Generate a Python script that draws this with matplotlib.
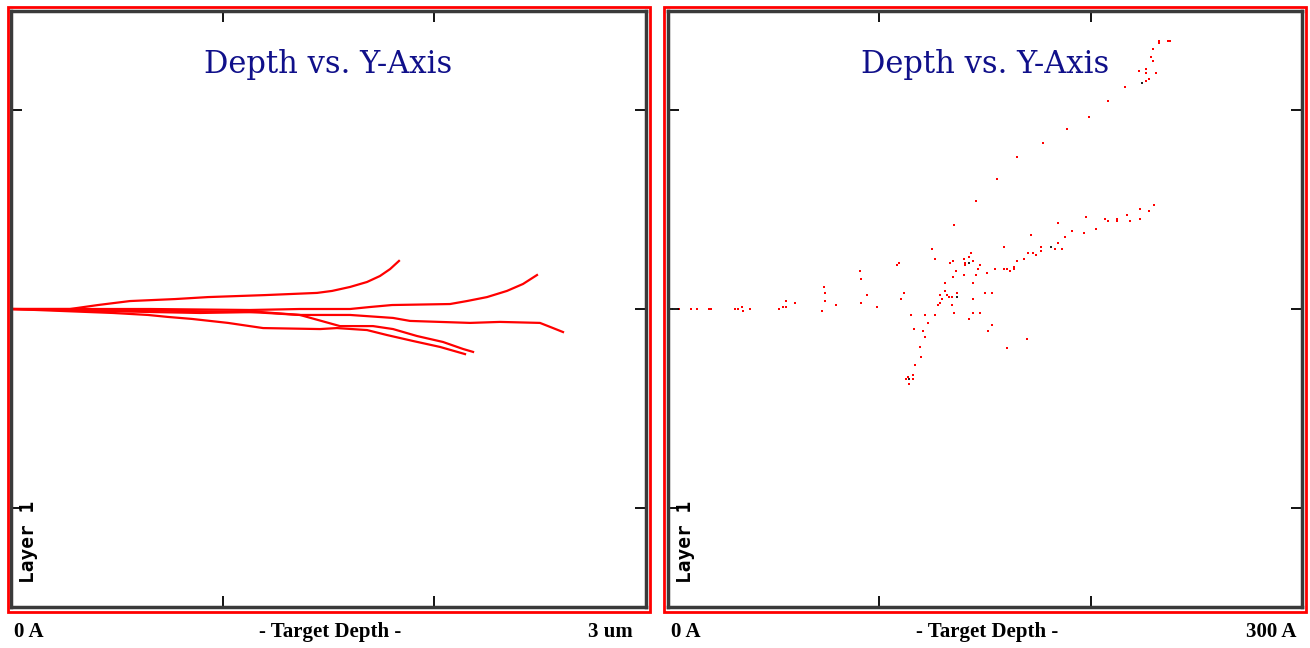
import numpy as np
import matplotlib.pyplot as plt
from matplotlib.patches import Rectangle

# left panel: ion tracks, depth (um) vs lateral Y (um)
trk_a_x = [0, 0.279, 0.411, 0.562, 0.775, 0.931, 1.200, 1.446, 1.517, 1.602, 1.682, 1.743, 1.791, 1.833]
trk_a_y = [0, 0, 0.020, 0.040, 0.050, 0.060, 0.070, 0.081, 0.091, 0.111, 0.136, 0.166, 0.201, 0.242]
trk_b_x = [0, 0.657, 1.129, 1.365, 1.602, 1.696, 1.800, 2.074, 2.154, 2.249, 2.343, 2.419, 2.485]
trk_b_y = [0, 0, -0.005, 0, 0, 0.010, 0.020, 0.025, 0.040, 0.060, 0.091, 0.126, 0.171]
trk_c_x = [0, 0.515, 1.129, 1.365, 1.602, 1.805, 1.885, 2.169, 2.310, 2.499, 2.561, 2.608]
trk_c_y = [0, -0.005, -0.015, -0.030, -0.030, -0.045, -0.060, -0.070, -0.065, -0.070, -0.096, -0.116]
trk_d_x = [0, 0.420, 0.893, 1.176, 1.365, 1.554, 1.710, 1.805, 1.918, 2.041, 2.135, 2.183]
trk_d_y = [0, -0.010, -0.020, -0.015, -0.030, -0.086, -0.086, -0.101, -0.136, -0.166, -0.201, -0.216]
trk_e_x = [0, 0.482, 0.647, 0.742, 0.855, 1.025, 1.191, 1.460, 1.540, 1.682, 1.776, 1.899, 2.027, 2.145]
trk_e_y = [0, -0.020, -0.030, -0.040, -0.050, -0.070, -0.096, -0.101, -0.096, -0.106, -0.131, -0.161, -0.191, -0.227]

# right panel: recoil positions, depth (A) vs Y (A)
rec_x = [10.9, 13.7, 19.4, 20.3, 31.7, 33.1, 35.0, 35.5, 38.8, 52.5, 54.4, 55.8, 55.8, 60.1,
         72.9, 73.8, 74.3, 74.3, 79.5, 90.9, 91.3, 91.3, 94.2, 98.9, 108.4, 109.3, 110.3, 111.7,
         115.0, 116.4, 119.2, 119.7, 120.7, 121.6, 121.6, 123.0, 124.9, 126.3, 126.3, 116.9,
         112.6, 113.6, 114.0, 115.9, 115.9, 127.8, 128.7, 129.7, 131.1, 131.1, 132.0, 133.0,
         133.4, 134.4, 134.4, 134.9, 134.9, 135.3, 136.3, 136.8, 140.1, 140.5, 140.5, 140.1,
         142.4, 142.4, 165.1, 155.7, 145.7, 135.3, 143.4, 144.3, 147.6, 146.7, 145.7, 151.0,
         154.7, 159.0, 160.4, 161.8, 163.7, 163.7, 165.1, 159.0, 168.5, 170.4, 172.7, 174.1,
         176.5, 176.5, 183.1, 184.5, 186.4, 184.5, 171.8, 187.9, 191.2, 196.9, 197.8, 202.5,
         206.8, 208.2, 212.5, 212.5, 217.2, 218.6, 223.4, 223.4, 227.6, 230.0, 144.3, 144.3,
         150.0, 153.3, 128.7, 144.3, 147.6, 153.3, 151.4, 169.9, 160.4, 232.3, 232.3, 236.6,
         237.5, 229.5, 228.6, 229.5, 222.9, 226.2, 226.2, 230.9, 227.6, 226.2, 216.3, 208.2,
         199.2, 188.8, 177.5, 5.0]
rec_y = [0, 0, 0, 0, 0, 0, 1.0, -1.0, 0, 0, 1.0, 1.0, 4.0, 3.0,
         -1.0, 11.1, 8.1, 4.0, 2.0, 19.1, 15.1, 3.0, 7.0, 1.0, 22.1, 23.2, 5.0, 8.1,
         -3.0, -10.1, -19.1, -24.2, -11.1, -3.0, -14.1, -7.0, 30.2, 25.2, -3.0, -28.2,
         -35.2, -34.2, -37.8, -33.2, -35.2, 2.0, 7.0, 5.0, 13.1, 9.1, 7.0, 6.0,
         23.2, 2.0, 6.0, 24.2, 16.1, -2.0, 19.1, 8.1, 25.2, 23.2, 22.1, 17.1,
         26.2, -5.0, 76.5, 65.4, 54.4, 42.3, 28.2, 24.2, 22.1, 20.1, 17.1, 18.1,
         20.1, 20.1, 20.1, 19.1, 20.1, 21.1, 24.2, 31.2, 25.2, 28.2, 28.2, 27.2,
         31.2, 29.2, 30.2, 33.2, 30.2, 43.3, 37.3, 36.2, 39.3, 38.3, 46.3, 40.3,
         45.3, 44.3, 45.3, 44.3, 47.3, 44.3, 50.3, 45.3, 49.3, 52.4, 13.1, 5.0,
         8.1, 8.1, 3.0, -2.0, -2.0, -8.1, -11.1, -15.1, -19.6, 134.9, 133.9, 134.9,
         134.9, 130.9, 126.9, 124.8, 119.8, 120.8, 118.8, 118.8, 115.8, 114.8, 111.8, 104.7,
         96.7, 90.6, 83.6, 0]
dark_x = [1.5, 3.0, 4.0, 114.0, 136.8, 142.4, 181.2, 224.3]
dark_y = [0, 0, 0, -35.2, 6.0, 23.2, 31.2, 113.8]

W, H = 1310, 648
fig = plt.figure(figsize=(W / 100, H / 100), dpi=100)
fig.patch.set_facecolor('white')

ax1 = fig.add_axes([11 / W, 41 / H, 635 / W, 596 / H])
ax2 = fig.add_axes([668 / W, 41 / H, 634 / W, 596 / H])

for x, y in [(trk_a_x, trk_a_y), (trk_b_x, trk_b_y), (trk_c_x, trk_c_y),
             (trk_d_x, trk_d_y), (trk_e_x, trk_e_y)]:
    ax1.plot(x, y, color='red', lw=1.6)
ax1.set_xlim(0, 3)
ax1.set_ylim(-1.5, 1.5)
ax1.set_xticks([1, 2])
ax1.set_yticks([-1, 0, 1])

ax2.scatter(rec_x, rec_y, s=3.2, marker='s', color='red', linewidths=0)
ax2.scatter(dark_x, dark_y, s=3.2, marker='s', color='#222222', linewidths=0, zorder=3)
ax2.set_xlim(0, 300)
ax2.set_ylim(-150, 150)
ax2.set_xticks([100, 200])
ax2.set_yticks([-100, 0, 100])

for ax in (ax1, ax2):
    ax.tick_params(direction='in', length=8, width=1.3, top=True, right=True,
                   labelbottom=False, labelleft=False)
    for s in ax.spines.values():
        s.set_color('#3a3a3a')
        s.set_linewidth(2.5)
    ax.text(0.5, 0.91, 'Depth vs. Y-Axis', transform=ax.transAxes, ha='center', va='center',
            fontsize=22, family='DejaVu Serif', color='#10108a')
    ax.text(0.027, 0.04, 'Layer 1', transform=ax.transAxes, rotation=90, rotation_mode='anchor',
            ha='left', va='center', fontsize=14, family='DejaVu Sans Mono', fontweight='heavy')

# red outer frames
for x0 in (7.5, 664):
    fig.patches.append(Rectangle((x0 / W, 36 / H), 642 / W, 605 / H, transform=fig.transFigure,
                                 fill=False, edgecolor='red', lw=2))

lab = dict(family='Liberation Serif', fontweight='bold', fontsize=15, va='center')
fig.text(14 / W, 16 / H, '0 A', ha='left', **lab)
fig.text(330 / W, 16 / H, '- Target Depth -', ha='center', **lab)
fig.text(633 / W, 16 / H, '3 um', ha='right', **lab)
fig.text(671 / W, 16 / H, '0 A', ha='left', **lab)
fig.text(987 / W, 16 / H, '- Target Depth -', ha='center', **lab)
fig.text(1296 / W, 16 / H, '300 A', ha='right', **lab)

fig.savefig('out.png', dpi=100)
